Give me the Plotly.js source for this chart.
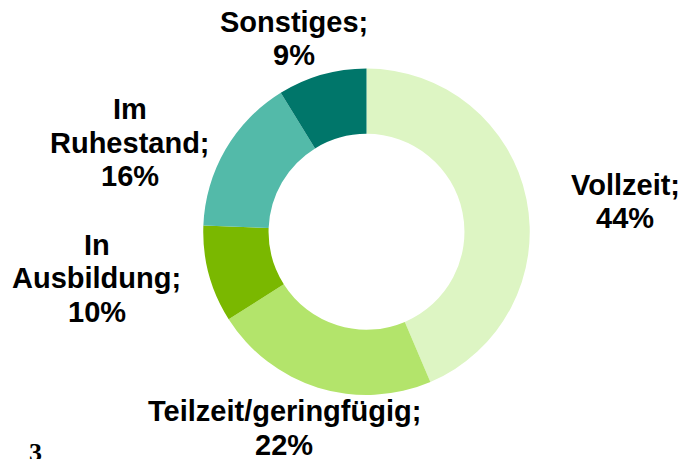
<!DOCTYPE html>
<html>
<head>
<meta charset="utf-8">
<script src="https://cdn.plot.ly/plotly-3.0.1.min.js"></script>
<style>html,body{margin:0;padding:0;background:#fff;}#chart{width:681px;height:459px;}</style>
</head>
<body>
<div id="chart"></div>
<script>
const categories = ["Vollzeit", "Teilzeit/geringfügig", "In Ausbildung", "Im Ruhestand", "Sonstiges"];
const labelLines = [["Vollzeit;"], ["Teilzeit/geringfügig;"], ["In", "Ausbildung;"], ["Im", "Ruhestand;"], ["Sonstiges;"]];
const shares = [43.6, 22.4, 9.6, 15.6, 8.8];
const colors = ["#ddf5c3", "#b3e46b", "#7ab800", "#53baa9", "#00766a"];
// label layout (pixels): centre x and first-line baseline
const labelPos = [[625, 195], [284, 421.5], [96.5, 255], [130, 119.5], [294, 32]];
const lineStep = 33.5;
const fontSize = 29;

const W = 681, H = 459;
const annotations = [];
categories.forEach((c, i) => {
  const lines = labelLines[i].concat([Math.round(shares[i]) + "%"]);
  lines.forEach((t, j) => {
    const baseline = labelPos[i][1] + j * lineStep;
    annotations.push({
      xref: "paper", yref: "paper",
      x: labelPos[i][0] / W, y: 1 - (baseline - 0.35 * fontSize) / H,
      xanchor: "center", yanchor: "middle",
      text: "<b>" + t + "</b>",
      showarrow: false, align: "center",
      font: {family: "Liberation Sans, Arial, sans-serif", size: fontSize, color: "#000"}
    });
  });
});
annotations.push({
  xref: "paper", yref: "paper", x: 35 / W, y: 1 - 436 / H,
  xanchor: "center", yanchor: "top", text: "<b>3</b>", showarrow: false,
  font: {family: "Liberation Serif, Times New Roman, serif", size: 26, color: "#000"}
});

const trace = {
  type: "pie",
  labels: categories,
  values: shares,
  hole: 0.6,
  sort: false,
  direction: "clockwise",
  rotation: 0,
  textinfo: "none",
  marker: {colors: colors, line: {width: 0}},
  domain: {x: [203 / W, 530 / W], y: [1 - 395 / H, 1 - 68.5 / H]},
  showlegend: false
};

Plotly.newPlot("chart", [trace], {
  width: W, height: H,
  margin: {l: 0, r: 0, t: 0, b: 0},
  paper_bgcolor: "#fff",
  showlegend: false,
  annotations: annotations
}, {displayModeBar: false, staticPlot: true});
</script>
</body>
</html>
